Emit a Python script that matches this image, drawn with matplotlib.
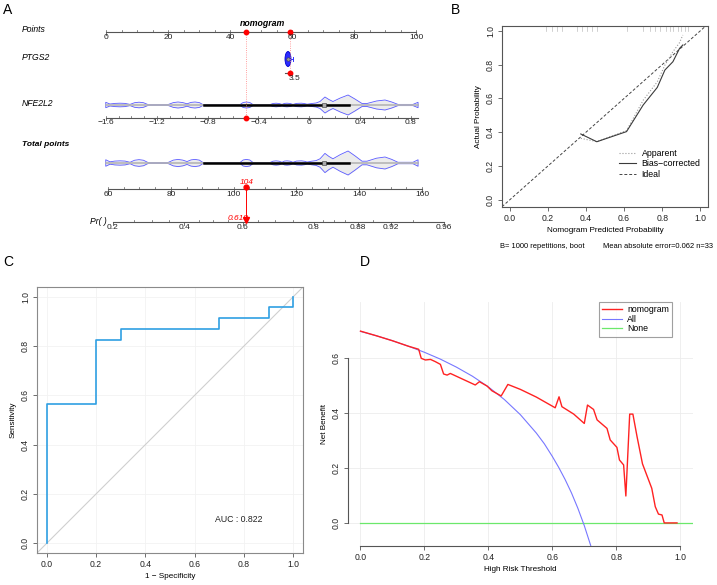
import numpy as np
import matplotlib
matplotlib.use('Agg')
import matplotlib.pyplot as plt
from matplotlib.patches import Ellipse

plt.rcParams['font.family'] = ['Liberation Sans', 'DejaVu Sans']

W, H = 717, 585

# ---------------- data: A (nomogram) ----------------
points_ticks = [0, 20, 40, 60, 80, 100]
nfe2l2_ticks = [-1.6, -1.2, -0.8, -0.4, 0, 0.4, 0.8]
total_ticks = [60, 80, 100, 120, 140, 160]
pr_ticks = [0.2, 0.4, 0.6, 0.8, 0.88, 0.92, 0.96]
pr_minor = [0.25, 0.3, 0.35, 0.45, 0.5, 0.55, 0.65, 0.7, 0.75, 0.82, 0.84, 0.86, 0.9, 0.94]
ptgs2_tick = 3.5
ptgs2_points = 59.4
nfe2l2_value = -0.5
total_value = 104
pr_value = 0.618

# NFE2L2 violin outline (value, half height)
violin_v = [-1.602, -1.602, -1.569, -1.53, -1.49, -1.45, -1.411, -1.375, -1.34, -1.305,
            -1.269, -1.112, -1.07, -1.033, -0.995, -0.962, -0.93, -0.899, -0.865, -0.836,
            -0.545, -0.52, -0.494, -0.468, -0.442, -0.309, -0.285, -0.261, -0.237, -0.214,
            -0.195, -0.175, -0.15, -0.128, -0.10, -0.061, -0.035, -0.017, 0.02, 0.054,
            0.085, 0.124, 0.155, 0.187, 0.245, 0.306, 0.36, 0.416, 0.455, 0.53,
            0.597, 0.65, 0.699, 0.817, 0.857, 0.857]
violin_h = [0.0, 2.7, 1.0, 1.6, 1.8, 1.6, 0.6, 2.3, 2.8, 2.3,
            0.4, 0.4, 2.4, 3.0, 2.4, 1.2, 2.6, 3.0, 2.4, 0.4,
            0.4, 2.5, 3.0, 2.5, 0.4, 0.4, 1.5, 1.8, 1.5, 0.6,
            1.6, 1.8, 1.5, 0.6, 1.6, 1.8, 1.4, 0.8, 1.5, 2.0,
            3.5, 8.0, 5.5, 3.5, 7.0, 10.0, 6.0, 1.5, 1.5, 4.0,
            5.0, 3.0, 0.6, 0.6, 2.7, 0.0]
nfe2l2_iqr = [-0.83, 0.31]
nfe2l2_median = 0.12

# ---------------- data: B (calibration) ----------------
calib_x = [0.373, 0.457, 0.613, 0.70, 0.774, 0.814, 0.856, 0.891, 0.908]
bias_corrected = [0.39, 0.344, 0.404, 0.561, 0.665, 0.768, 0.817, 0.896, 0.916]
apparent = [0.364, 0.345, 0.41, 0.589, 0.698, 0.797, 0.876, 0.93, 0.975]
rug_pred = [0.19, 0.222, 0.248, 0.274, 0.352, 0.378, 0.405, 0.431, 0.457, 0.613, 0.70,
            0.734, 0.76, 0.786, 0.821, 0.839, 0.856, 0.882, 0.899, 0.917, 0.934]

# ---------------- data: C (ROC) ----------------
roc_fpr = [0, 0, 0.2, 0.2, 0.3, 0.3, 0.7, 0.7, 0.9, 0.9, 1.0, 1.0]
roc_tpr = [0, 0.565, 0.565, 0.826, 0.826, 0.870, 0.870, 0.913, 0.913, 0.957, 0.957, 1.0]
auc = 0.822

# ---------------- data: D (decision curve) ----------------
nb_thr = [0, 0.05, 0.10, 0.15, 0.182, 0.190, 0.203, 0.219, 0.234, 0.25, 0.26, 0.271,
          0.281, 0.32, 0.359, 0.372, 0.396, 0.411, 0.44, 0.461, 0.50, 0.55, 0.609,
          0.621, 0.630, 0.667, 0.70, 0.710, 0.729, 0.740, 0.771, 0.781, 0.802, 0.810,
          0.823, 0.830, 0.842, 0.852, 0.865, 0.882, 0.911, 0.922, 0.932, 0.943, 0.95, 0.99]
nb_model = [0.698, 0.681, 0.663, 0.643, 0.632, 0.599, 0.593, 0.595, 0.587, 0.577, 0.542, 0.538,
            0.544, 0.523, 0.502, 0.514, 0.498, 0.481, 0.462, 0.504, 0.486, 0.458, 0.419,
            0.459, 0.423, 0.396, 0.362, 0.429, 0.413, 0.375, 0.344, 0.302, 0.275, 0.229,
            0.211, 0.098, 0.396, 0.396, 0.314, 0.215, 0.126, 0.059, 0.032, 0.029, 0.0, 0.0]
all_thr = [0, 0.05, 0.1, 0.15, 0.2, 0.25, 0.3, 0.35, 0.4, 0.45, 0.5, 0.55, 0.575, 0.6,
           0.62, 0.64, 0.66, 0.68, 0.70, 0.72]
all_nb = [0.697, 0.681, 0.663, 0.643, 0.621, 0.596, 0.567, 0.534, 0.495, 0.449, 0.394, 0.327,
          0.288, 0.242, 0.202, 0.158, 0.109, 0.053, -0.010, -0.082]
none_thr = [0, 1.04]
none_nb = [0, 0]

fig = plt.figure(figsize=(W / 100, H / 100), dpi=100)

# ================= A =================
PXPT = 3.1     # pixels per point
X0 = 106       # pixel of Points = 0
axA = fig.add_axes([0, 1 - 250 / H, 460 / W, 250 / H])
axA.set_xlim(-X0 / PXPT, (460 - X0) / PXPT)
axA.set_ylim(250, 0)
axA.axis('off')


def px2x(px):
    return (px - X0) / PXPT


def nfe_x(v):
    return (np.asarray(v, dtype=float) + 1.6) * 127 / PXPT


def tot_x(t):
    return 0.65 + (np.asarray(t, dtype=float) - 60) * 3.14 / PXPT


def pr_x(p):
    p = np.asarray(p, dtype=float)
    lg = np.log(p / (1 - p))
    return px2x(113 + (lg + 1.386) * 72.5)


axc = '#555555'


def scale(y, xs, labels, minor, lo, hi):
    axA.plot([lo, hi], [y, y], color=axc, lw=0.8)
    for x in xs:
        axA.plot([x, x], [y, y + 2.5], color=axc, lw=0.6)
    for x in minor:
        axA.plot([x, x], [y, y - 1.8], color=axc, lw=0.5)
    for x, lab in zip(xs, labels):
        axA.text(x, y + 2, lab, ha='center', va='top', fontsize=6, color='#222222')


def fmt(v):
    s = f'{v:g}'
    return s.replace('-', '\u2212')


lab_x = px2x(22)
axA.text(px2x(262), 24, 'nomogram', fontsize=6.3, fontweight='bold', style='italic', ha='center', va='center')

# Points
scale(32, points_ticks, [fmt(v) for v in points_ticks], np.arange(0, 101, 5), 0, 100)
axA.text(lab_x, 30, 'Points', fontsize=6.2, style='italic', va='center')

# PTGS2
axA.text(lab_x, 58, 'PTGS2', fontsize=6.2, style='italic', va='center')
axA.add_patch(Ellipse((px2x(288), 59), 6 / PXPT, 15, facecolor='#2b2bff', edgecolor='#0000cc', lw=0.6))
axA.plot([px2x(288), px2x(293)], [59, 59], color='#3333ff', lw=0.7)
axA.plot([px2x(293), px2x(293)], [57, 61], color='#3333ff', lw=0.7)
axA.plot(px2x(288), 59, 'o', ms=2.5, mfc='#999999', mec='#444444', mew=0.4)
axA.plot([ptgs2_points - 1.5, ptgs2_points + 0.3], [73, 73], color=axc, lw=0.8)
axA.text(ptgs2_points - 0.4, 75, fmt(ptgs2_tick), ha='left', va='top', fontsize=6, color='#222222')

# NFE2L2
axA.text(lab_x, 103, 'NFE2L2', fontsize=6.2, style='italic', va='center')
scale(117.5, nfe_x(nfe2l2_ticks), [fmt(v) for v in nfe2l2_ticks],
      nfe_x(np.arange(-1.6, 0.86, 0.1)), nfe_x(-1.602), nfe_x(0.857))


def violin(yc, hscale):
    xv = nfe_x(violin_v)
    hv = np.asarray(violin_h) * hscale
    axA.fill_between(xv, yc - hv, yc + hv, color='#ececec', lw=0)
    axA.plot(xv, yc - hv, color='#5a5aff', lw=0.6)
    axA.plot(xv, yc + hv, color='#5a5aff', lw=0.6)
    axA.plot([xv[0], xv[-1]], [yc, yc], color='#b5b5b5', lw=1.2)
    axA.plot(nfe_x(nfe2l2_iqr), [yc, yc], color='black', lw=1.8)
    axA.plot(nfe_x(nfe2l2_median), yc, 's', ms=2.3, mfc='#aaaaaa', mec='#333333', mew=0.4)


violin(105, 1.0)

# Total points
axA.text(lab_x, 144, 'Total points', fontsize=6, fontweight='bold', style='italic', va='center')
violin(163, 1.2)
scale(189, tot_x(total_ticks), [fmt(v) for v in total_ticks], tot_x(np.arange(60, 161, 5)),
      tot_x(60), tot_x(160))

# Pr
axA.text(px2x(107), 221, 'Pr( )', fontsize=6.2, style='italic', ha='right', va='center')
scale(222, pr_x(pr_ticks), [fmt(v) for v in pr_ticks], pr_x(pr_minor), pr_x(0.2), pr_x(0.96))

# patient path
nx = float(nfe_x(nfe2l2_value))
axA.plot([nx, nx], [32, 117.5], color='#ff8080', lw=0.6, ls=':')
axA.plot([ptgs2_points, ptgs2_points], [32, 73], color='#ff8080', lw=0.6, ls=':')
axA.plot([nx, ptgs2_points], [32, 32], 'o', color='red', ms=3.2)
axA.plot(nx, 117.5, 'o', color='red', ms=3.2)
axA.plot(ptgs2_points, 73, 'o', color='red', ms=3.2)
tx = float(tot_x(total_value))
axA.plot([tx, tx], [186.5, 220], color='red', lw=0.7)
axA.plot(tx, 186.5, 'o', color='red', ms=3.5)
axA.plot(tx, 220, 'v', color='red', ms=3.8)
axA.text(tx + 0.3, 182.5, str(total_value), color='red', fontsize=6, style='italic', ha='center', va='center')
axA.text(tx + 0.8, 219, f'{pr_value:.3f}', color='red', fontsize=6, style='italic', ha='right', va='center')


def r_style(ax, frame):
    ax.tick_params(direction='out', length=3, width=0.6, colors='#555555', labelcolor='#222222',
                   labelsize=6.2, pad=2)
    ax.tick_params(axis='y', labelrotation=90)
    for lab in ax.get_yticklabels():
        lab.set_va('center')
    for s in ax.spines.values():
        s.set_color(frame)
        s.set_linewidth(0.8)


# ================= B =================
axB = fig.add_axes([502 / W, 1 - 206.7 / H, 206 / W, 181 / H])
axB.set_xlim(-0.04, 1.04)
axB.set_ylim(-0.04, 1.03)
axB.plot([-0.04, 1.04], [-0.04, 1.04], color='#444444', lw=0.7, ls=(0, (3, 2)), label='Ideal', zorder=2)
axB.plot(calib_x, apparent, color='#9a9a9a', lw=0.8, ls=':', label='Apparent')
axB.plot(calib_x, bias_corrected, color='#3a3a3a', lw=0.8, label='Bias\u2212corrected')
for r in rug_pred:
    axB.plot([r, r], [1.0, 1.03], color='#bdbdbd', lw=0.5)
ticks = [0, 0.2, 0.4, 0.6, 0.8, 1.0]
axB.set_xticks(ticks)
axB.set_xticklabels([f'{t:.1f}' for t in ticks])
axB.set_yticks(ticks)
axB.set_yticklabels([f'{t:.1f}' for t in ticks])
r_style(axB, '#555555')
axB.set_xlabel('Nomogram Predicted Probability', fontsize=5.9, labelpad=3)
axB.set_ylabel('Actual Probability', fontsize=5.9, labelpad=3)
h, l = axB.get_legend_handles_labels()
axB.legend([h[1], h[2], h[0]], [l[1], l[2], l[0]], loc='upper left', bbox_to_anchor=(0.55, 0.34),
           frameon=False, fontsize=6.3, handlelength=2.0, labelspacing=0.2, borderaxespad=0,
           handletextpad=0.6)
fig.text(500 / W, 1 - 246 / H, 'B= 1000 repetitions, boot', fontsize=5.4, ha='left', va='center')
fig.text(713 / W, 1 - 246 / H, 'Mean absolute error=0.062 n=33', fontsize=5.4, ha='right', va='center')

# ================= C =================
axC = fig.add_axes([37 / W, 1 - 553 / H, 266 / W, 266 / H])
axC.set_xlim(-0.04, 1.04)
axC.set_ylim(-0.04, 1.04)
axC.set_xticks(ticks)
axC.set_xticklabels([f'{t:.1f}' for t in ticks])
axC.set_yticks(ticks)
axC.set_yticklabels([f'{t:.1f}' for t in ticks])
axC.grid(color='#f2f2f2', lw=0.6)
axC.set_axisbelow(True)
axC.plot([-0.04, 1.04], [-0.04, 1.04], color='#cfcfcf', lw=0.8)
axC.plot(roc_fpr, roc_tpr, color='#2f9fe3', lw=1.2)
axC.text(0.78, 0.097, f'AUC : {auc}', fontsize=6.3, ha='center', va='center', color='#222222')
r_style(axC, '#8a8a8a')
axC.set_xlabel('1 \u2212 Specificity', fontsize=5.9, labelpad=3)
axC.set_ylabel('Sensitivity', fontsize=5.9, labelpad=3)

# ================= D =================
axD = fig.add_axes([347.7 / W, 1 - 546 / H, 345.3 / W, 244 / H])
axD.set_xlim(-0.04, 1.04)
axD.set_ylim(-0.084, 0.804)
axD.set_xticks(ticks)
axD.set_xticklabels([f'{t:.1f}' for t in ticks])
axD.set_yticks([0, 0.2, 0.4, 0.6])
axD.set_yticklabels(['0.0', '0.2', '0.4', '0.6'])
axD.grid(color='#ececec', lw=0.6)
axD.set_axisbelow(True)
axD.plot(none_thr, none_nb, color='#6be86b', lw=0.9, label='None')
axD.plot(all_thr, all_nb, color='#7777ff', lw=0.8, label='All')
axD.plot(nb_thr, nb_model, color='#ff2222', lw=1.0, label='nomogram')
r_style(axD, '#555555')
axD.spines['top'].set_visible(False)
axD.spines['right'].set_visible(False)
axD.spines['left'].set_bounds(0, 0.6)
axD.spines['bottom'].set_bounds(0, 1.0)
axD.set_xlabel('High Risk Threshold', fontsize=5.9, labelpad=3)
axD.set_ylabel('Net Benefit', fontsize=5.9, labelpad=3)
h, l = axD.get_legend_handles_labels()
leg = axD.legend([h[2], h[1], h[0]], [l[2], l[1], l[0]], loc='upper right', bbox_to_anchor=(0.94, 1.0),
                 fontsize=6.3, handlelength=2.2, labelspacing=0.05, borderaxespad=0, fancybox=False,
                 borderpad=0.4, handletextpad=0.6)
leg.get_frame().set_edgecolor('#888888')
leg.get_frame().set_linewidth(0.8)

# panel letters
for txt, px, py in [('A', 8, 10), ('B', 455, 10), ('C', 8, 262), ('D', 365, 262)]:
    fig.text(px / W, 1 - py / H, txt, fontsize=10, ha='center', va='center')

fig.savefig('out.png', dpi=100)
